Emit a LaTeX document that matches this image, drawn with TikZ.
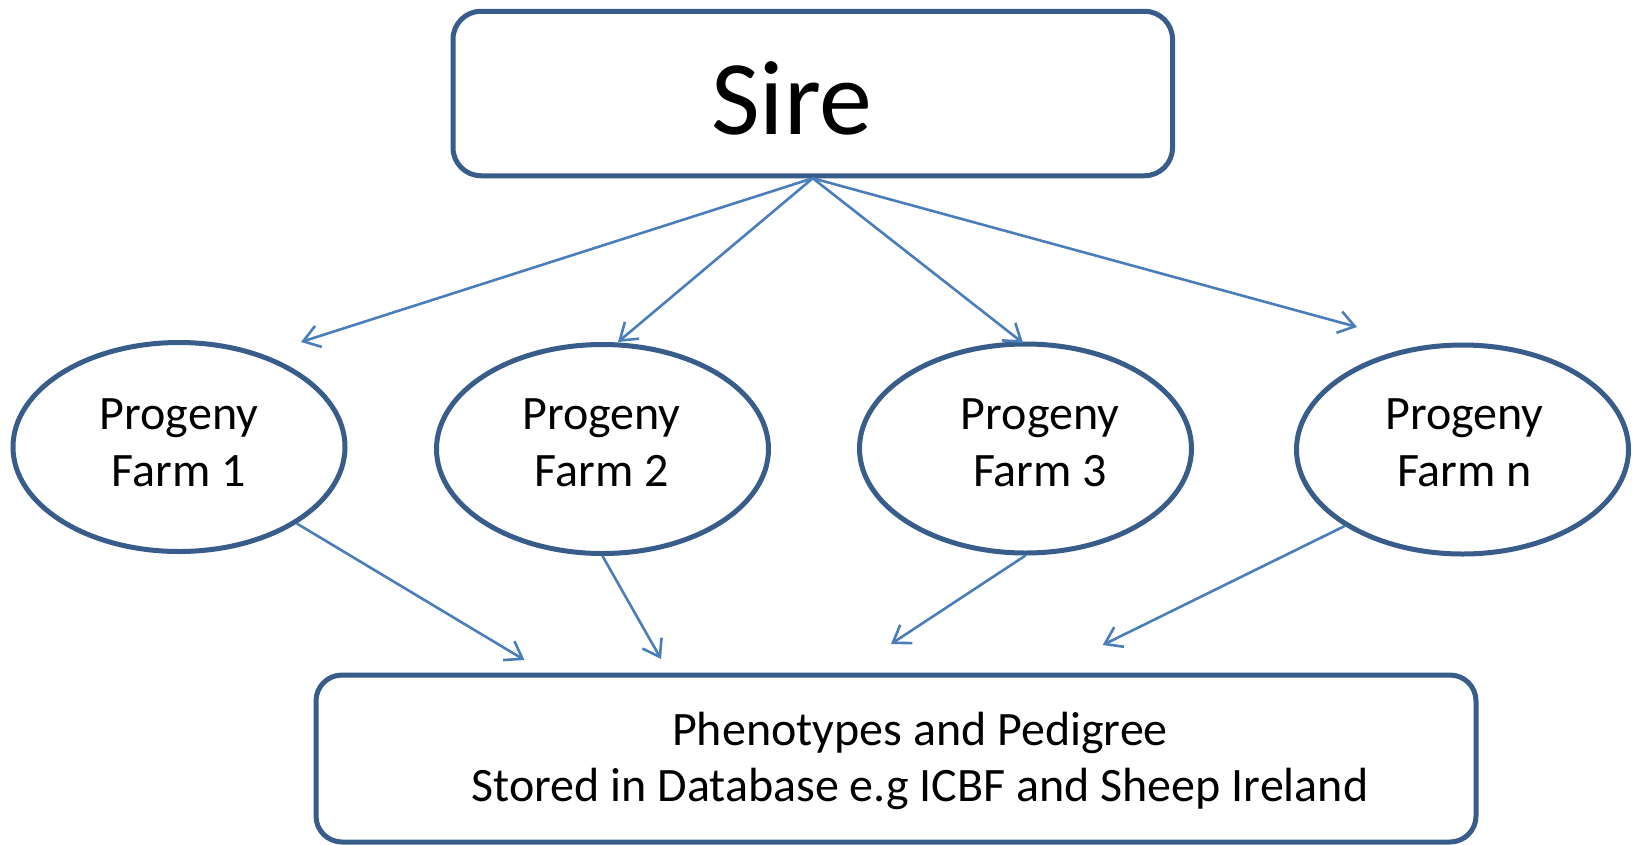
\documentclass[tikz,border=0pt]{standalone}
\usepackage{fontspec}
\setmainfont{Carlito}
\usetikzlibrary{arrows.meta,shapes.geometric}
\definecolor{outline}{HTML}{385D8A}
\definecolor{link}{HTML}{4A7EBB}
\tikzset{
  boxshape/.style={draw=outline, line width=5pt, rectangle, rounded corners=28pt, inner sep=0pt, fill=white},
  farmshape/.style={draw=outline, line width=5pt, ellipse, inner sep=0pt, minimum width=332pt, minimum height=209pt},
  farmtext/.style={anchor=base, align=center, inner sep=0pt, font=\fontsize{48}{57}\selectfont},
  arr/.style={draw=link, line width=2.6pt, -{Straight Barb[length=16pt,width=22pt,line join=miter]}}
}
\begin{document}
\begin{tikzpicture}[x=1pt,y=-1pt]
\useasboundingbox (0,0) rectangle (1632,844);
\fill[white] (0,0) rectangle (1632,844);

% top box
\node[boxshape, minimum width=719.5pt, minimum height=164.5pt] (sire) at (812.75,93.5) {};
\node[anchor=base, inner sep=0pt, font=\fontsize{106}{112}\selectfont] (sirelabel) at (792,134) {Sire};

% progeny farms
\node[farmshape] (e1) at (179,447) {};
\node[farmshape] (e2) at (602.5,449) {};
\node[farmshape] (e3) at (1025.5,448.5) {};
\node[farmshape] (e4) at (1462.5,449.5) {};
% the base anchor of a two-line label sits on its last line
\node[farmtext] (t1) at (179,486) {Progeny\\Farm 1};
\node[farmtext] (t2) at (601.5,486) {Progeny\\Farm 2};
\node[farmtext] (t3) at (1040,486) {Progeny\\Farm 3};
\node[farmtext] (t4) at (1464.5,486) {Progeny\\Farm n};

% database box
\node[boxshape, rounded corners=26pt, minimum width=1160pt, minimum height=167pt] (db) at (896,758.5) {};
\node[anchor=base, align=center, inner sep=0pt, font=\fontsize{48}{56}\selectfont] (dblabel) at (920,801)
  {Phenotypes and Pedigree\\Stored in Database e.g ICBF and Sheep Ireland};

% arrow ends
\coordinate (u1) at (301,342);
\coordinate (u2) at (618,342);
\coordinate (u3) at (1023,343);
\coordinate (u4) at (1357,327);
\coordinate (d1) at (524.5,660);
\coordinate (d2) at (661,659);
\coordinate (d3) at (891,644);
\coordinate (d4) at (1102.7,645);

% sire to farms
\draw[arr] (sire.south) -- (u1);
\draw[arr] (sire.south) -- (u2);
\draw[arr] (sire.south) -- (u3);
\draw[arr] (sire.south) -- (u4);

% farms to database
\draw[arr] (e1.-33) -- (d1);
\draw[arr] (e2.south) -- (d2);
\draw[arr] (e3.south) -- (d3);
\draw[arr] (e4.213) -- (d4);
\end{tikzpicture}
\end{document}
